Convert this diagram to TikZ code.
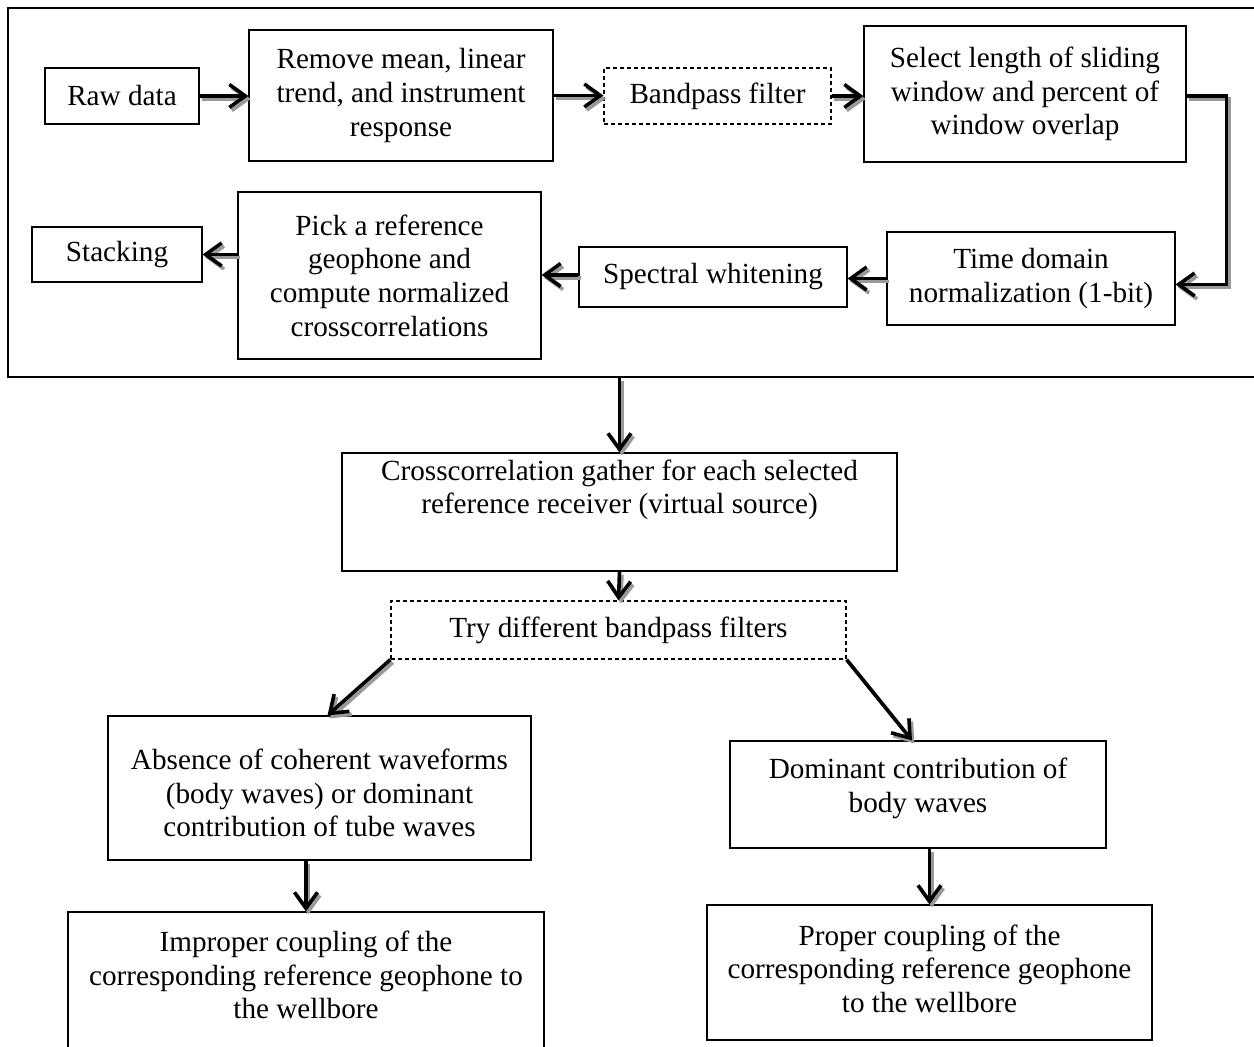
\documentclass[tikz,border=0pt]{standalone}
\usepackage{fontspec}
\setmainfont{Liberation Serif}
\usetikzlibrary{arrows.meta}

\begin{document}
\begin{tikzpicture}[x=0.5pt, y=-0.5pt,
  box/.style={draw, line width=0.6pt, align=center, inner sep=0pt},
  dbox/.style={box, dash pattern=on 2pt off 1.5pt},
  arr/.style={line width=1.8pt, -{Straight Barb[length=8pt, width=11.5pt, line width=1.8pt]},
    preaction={draw=black!40, line width=1.8pt, transform canvas={shift={(1.2pt,-1.5pt)}}}}]

  \fontsize{14.6}{16.8}\selectfont

  \useasboundingbox (0,0) rectangle (1254,1047);

  %% frame round the preprocessing steps
  \node[draw, line width=1.3pt, minimum width=627pt, minimum height=184.5pt] (frame) at (635,192.5) {};

  \node[box, minimum width=77pt,  minimum height=28pt]   (raw)    at (122,96)    {Raw data};
  \node[box, minimum width=152pt, minimum height=65.5pt] (remove) at (401,95.5)  {Remove mean, linear\\trend, and instrument\\response};
  \node[dbox, minimum width=113.5pt, minimum height=28pt] (band)  at (717.5,96)  {Bandpass filter};
  \node[box, minimum width=161pt, minimum height=68pt]   (select) at (1025,94)   {Select length of sliding\\window and percent of\\window overlap};
  \node[box, minimum width=144pt, minimum height=46.5pt] (time)   at (1031,278.5) {Time domain\\normalization (1-bit)};
  \node[box, minimum width=134pt, minimum height=30pt]   (spec)   at (713,277)   {Spectral whitening};
  \node[box, minimum width=151.5pt, minimum height=83.5pt] (pick) at (389.5,275.5) {Pick a reference\\geophone and\\compute normalized\\crosscorrelations};
  \node[box, minimum width=85pt,  minimum height=27.5pt] (stack)  at (117,254.5) {Stacking};

  \node[box, minimum width=277.5pt, minimum height=59pt,
    label={[align=center, yshift=11pt]center:{Crosscorrelation gather for each selected\\reference receiver (virtual source)}}] (gather) at (619.5,512) {};
  \node[dbox, minimum width=227.5pt, minimum height=29pt] (try)   at (618.5,630) {Try different bandpass filters};

  \node[box, minimum width=211.5pt, minimum height=72pt,
    label={[align=center, yshift=-2.5pt]center:{Absence of coherent waveforms\\(body waves) or dominant\\contribution of tube waves}}] (absent) at (319.5,788) {};
  \node[box, minimum width=188pt,   minimum height=53.5pt,
    label={[align=center, yshift=3pt]center:{Dominant contribution of\\body waves}}] (dominant) at (918,794.5) {};
  \node[box, minimum width=238pt,   minimum height=75pt,
    label={[align=center, yshift=6pt]center:{Improper coupling of the\\corresponding reference geophone to\\the wellbore}}] (improper) at (306,987) {};
  \node[box, minimum width=222.5pt, minimum height=67.5pt,
    label={[align=center, yshift=2pt]center:{Proper coupling of the\\corresponding reference geophone\\to the wellbore}}] (proper) at (929.5,972.5) {};

  \draw[arr] (raw.east) -- (raw.east -| remove.west); %% raw->remove
  \draw[arr] (remove.east) -- (remove.east -| band.west); %% remove->band
  \draw[arr] (band.east) -- (band.east -| select.west); %% band->select
  \draw[arr] ([yshift=-1pt]select.east) -- ++(40,0) |- ([yshift=-3pt]time.east); %% select->time
  \draw[arr] (time.west) -- (time.west -| spec.east); %% time->spec
  \draw[arr] ([yshift=1pt]spec.west) -- ([yshift=1pt]spec.west -| pick.east); %% spec->pick
  \draw[arr] (stack.east -| pick.west) -- (stack.east); %% pick->stack

  \draw[arr] (frame.south -| gather.north) -- (gather.north); %% frame->gather
  \draw[arr] (gather.south) -- (try.north); %% gather->try
  \draw[arr] (try.south west) -- ([xshift=4pt]absent.north); %% try->absent
  \draw[arr] (try.south east) -- ([xshift=-3pt]dominant.north); %% try->dominant
  \draw[arr] (improper.north |- absent.south) -- (improper.north); %% absent->improper
  \draw[arr] (proper.north |- dominant.south) -- (proper.north); %% dominant->proper
\end{tikzpicture}
\end{document}
